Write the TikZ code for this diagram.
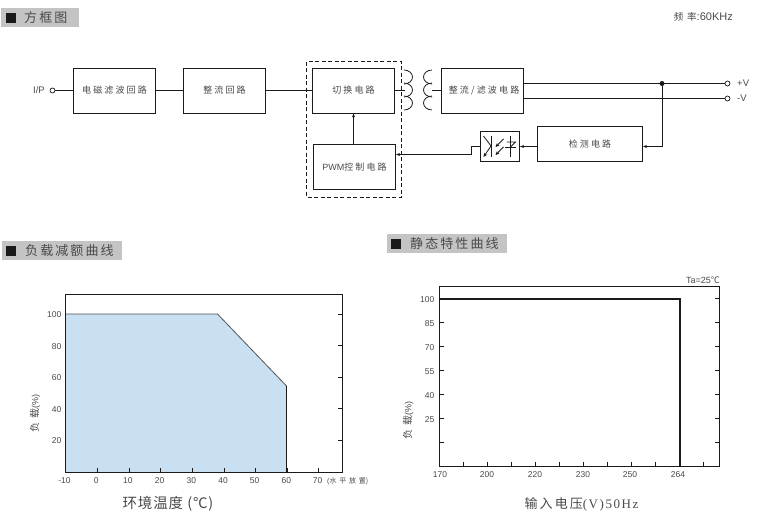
\documentclass[tikz,border=0pt]{standalone}
\usepackage{fontspec}
\setmainfont{Liberation Sans}
\newfontfamily\cjk[LetterSpace=24]{Noto Sans CJK SC}
\newfontfamily\cjkh[LetterSpace=16]{Noto Sans CJK SC}
\newfontfamily\cjkw[LetterSpace=40]{Noto Sans CJK SC}
\newfontfamily\cjkx[LetterSpace=6]{Noto Sans CJK SC}
\newfontfamily\cjkn{Noto Sans CJK SC}
\newfontfamily\serifw[LetterSpace=12]{Liberation Serif}
\usetikzlibrary{arrows.meta}
\definecolor{txt}{HTML}{4A4A4A}
\definecolor{hdr}{HTML}{C4C4C4}
\definecolor{fillb}{HTML}{C9DFF2}
\definecolor{ink}{HTML}{1A1A1A}
\tikzset{
  x=1pt,y=-1pt,
  blk/.style={draw=ink,line width=0.9pt,minimum height=45pt,inner sep=0pt,font=\fontsize{9}{10}\selectfont,text=txt},
  wire/.style={draw=ink,line width=0.9pt},
  arrowwire/.style={wire,-{Stealth[length=4pt,width=3pt]}},
  term/.style={circle,draw=ink,line width=0.7pt,minimum size=5pt,inner sep=0pt},
  lbl/.style={inner sep=0pt,text=txt,font=\fontsize{9.5}{11}\selectfont},
  hbar/.style={fill=hdr,draw=none,anchor=north west,inner sep=0pt,minimum height=19pt},
  hsq/.style={fill=ink,draw=none,minimum size=10pt,inner sep=0pt},
  htxt/.style={inner sep=0pt,anchor=west,text=txt,font=\fontsize{13}{14}\selectfont},
  axisbox/.style={draw=ink,line width=0.9pt},
  tk/.style={draw=ink,line width=0.8pt},
  tklbl/.style={inner sep=0pt,text=txt,font=\fontsize{8.5}{9}\selectfont},
  ylab/.style={inner sep=0pt,text=txt,rotate=90,font=\fontsize{10}{11}\selectfont},
  xlab/.style={inner sep=0pt,text=txt,font=\fontsize{14.5}{16}\selectfont},
}
\begin{document}
\begin{tikzpicture}
\useasboundingbox (0,0) rectangle (759,517);
\fill[white] (0,0) rectangle (759,517);

% section headers
\node[hbar,minimum width=78pt] (h1) at (1,8) {};
\node[hsq] (h1s) at (11,17.5) {};
\node[htxt] (h1t) at (24,18) {\cjkh 方框图};
\node[hbar,minimum width=120pt] (h2) at (2,241) {};
\node[hsq] (h2s) at (11,250.5) {};
\node[htxt] (h2t) at (25,251) {\cjkh 负载减额曲线};
\node[hbar,minimum width=120pt] (h3) at (387,234) {};
\node[hsq] (h3s) at (396,243.5) {};
\node[htxt] (h3t) at (410,244) {\cjkh 静态特性曲线};

\node[lbl,anchor=east,font=\fontsize{11}{12}\selectfont] (freq) at (733,17) {{\cjkw\fontsize{9.5}{11}\selectfont 频率}:60KHz};

% block diagram
\node[blk,minimum width=82pt] (emi) at (114.5,90.5) {\cjk 电磁滤波回路};
\node[blk,minimum width=82pt] (rect) at (224.5,90.5) {\raisebox{-1.5pt}{\cjk 整流回路}};
\node[blk,minimum width=82pt] (sw) at (353.5,90.5) {\cjk 切换电路};
\node[blk,minimum width=82pt] (pwm) at (354.5,167) {PWM\cjk 控制电路};
\node[blk,minimum width=82pt] (out) at (482,90.5) {\hspace{4pt}\cjk 整流/滤波电路};
\node[blk,minimum width=105pt,minimum height=35pt] (det) at (590,144) {\cjk 检测电路};
\node[blk,minimum width=39pt,minimum height=30pt] (opto) at (500,146.5) {};

\draw[draw=ink,line width=0.9pt,dashed,dash pattern=on 4pt off 2.5pt] (306.5,61.5) rectangle (401.5,197);

\node[lbl,anchor=east] (ip) at (45,90.5) {I/P};
\node[term] (tin) at (52.5,90.5) {};
\node[term] (tp) at (727.5,83.5) {};
\node[term] (tn) at (727.5,98.5) {};
\node[lbl,anchor=west] (vp) at (737,83.5) {+V};
\node[lbl,anchor=west] (vn) at (737,98.5) {-V};
\node[circle,fill=ink,minimum size=5pt,inner sep=0pt] (jn) at (662,83.5) {};

\coordinate (cl) at (405,90.5);
\coordinate (cr) at (432,90.5);
\coordinate (bend1) at (471.5,146.5);
\coordinate (bend2) at (471.5,154.5);
\coordinate (detin) at (662,146.5);

\draw[wire] (tin) -- (emi);
\draw[wire] (emi) -- (rect);
\draw[wire] (rect) -- (sw);
\draw[wire] (sw) -- (cl);
\draw[wire] (cr) -- (out);
\draw[wire] (out.east|-tp) -- (tp);
\draw[wire] (out.east|-tn) -- (tn);
\draw[arrowwire] (pwm.north-|sw) -- (sw.south);
\draw[wire] (jn) -- (detin);
\draw[arrowwire] (detin) -- (det.east|-detin);
\draw[arrowwire] (det.west|-opto) -- (opto.east);
\draw[wire] (opto.west) -- (bend1) -- (bend2);
\draw[arrowwire] (bend2) -- (pwm.east|-bend2);

% transformer
\foreach \c in {77,90,103}{
  \draw[ink,line width=0.8pt] (404,\c+7) arc[start angle=-90,end angle=90,x radius=8.5,y radius=-7];
  \draw[ink,line width=0.8pt] (432,\c+7) arc[start angle=-90,end angle=-270,x radius=8.5,y radius=-7];
}

% optocoupler symbol
\draw[ink,line width=0.8pt] (491,136) -- (491,157);
\draw[ink,line width=0.8pt] (483.5,136) -- (491,146);
\draw[ink,line width=0.8pt,-{Stealth[length=4pt,width=3.5pt]}] (491,146) -- (483.5,157);
\draw[ink,line width=0.8pt,-{Stealth[length=4pt,width=3.5pt]}] (503.5,139) -- (495.5,147);
\draw[ink,line width=0.8pt,-{Stealth[length=4pt,width=3.5pt]}] (503.5,147) -- (495.5,155);
\draw[ink,line width=0.8pt] (510.5,136) -- (510.5,157);
\draw[ink,line width=0.8pt] (506.5,142) -- (515.5,142) -- (510.5,147);
\draw[ink,line width=0.8pt] (505,147) -- (515.5,147);

% derating chart
\fill[fillb] (65.5,314) -- (217.5,314) -- (286.5,386) -- (286.5,472) -- (65.5,472) -- cycle;
\draw[draw=ink!75,line width=0.8pt] (65.5,314) -- (217.5,314) -- (286.5,386);
\draw[draw=ink,line width=1pt] (286.5,386) -- (286.5,472);
\draw[axisbox] (65.5,294) rectangle (342,472);
\foreach \v/\y in {100/314,80/345.6,60/377.2,40/408.8,20/440.4}{
  \draw[tk] (342,\y) -- ++(-4.5,0);
  \node[tklbl,anchor=east] at (61.5,\y+0.5) {\v};
}
\foreach \v/\x in {-10/65.5,0/97.2,10/128.9,20/160.6,30/192.3,40/224,50/255.7,60/287.4,70/318.5}{
  \draw[tk] (\x,472) -- ++(0,-4.5);
  \node[tklbl] at (\x-1,480.5) {\v};
}
\node[tklbl,anchor=west,font=\fontsize{7}{8}\selectfont] (pl) at (327,481.5) {(\cjkw 水平放置\cjkn)};
\node[ylab] (yl1) at (35,413) {{\cjkw 负载}\fontsize{9}{10}\selectfont(\%)};
\node[xlab] (xl1) at (168,504) {\cjkx 环境温度 (℃)};

% static chart
\draw[axisbox] (439.5,286.5) rectangle (719.5,466.5);
\foreach \v/\y in {100/298.5,85/322.5,70/346.5,55/370.5,40/394.5,25/418.5,/442.5}{
  \draw[tk] (439.5,\y) -- ++(4.5,0);
  \draw[tk] (719.5,\y) -- ++(-4.5,0);
  \node[tklbl,anchor=east] at (434.5,\y+1.5) {\v};
}
\foreach \x in {463.5,487.5,511.5,535.5,559.5,583.5,607.5,631.5,655.5,679.5,703.5}{
  \draw[tk] (\x,466.5) -- ++(0,-4.5);
}
\foreach \v/\x in {170/440,200/487,220/535,230/583,250/630,264/678}{
  \node[tklbl] at (\x,474.5) {\v};
}
\draw[ink,line width=2pt] (439.5,298.5) -- (679.5,298.5) -- (679.5,466.5);
\node[inner sep=0pt,text=txt,anchor=east,font=\fontsize{9}{10}\selectfont] (ta) at (720,280) {Ta=25{\cjkn ℃}};
\node[ylab] (yl2) at (408,420) {{\cjkw 负载}\fontsize{9}{10}\selectfont(\%)};
\node[xlab,font=\fontsize{13}{15}\selectfont] (xl2) at (581.5,504) {\cjkh 输入电压{\serifw (V)50Hz}};
\end{tikzpicture}
\end{document}
